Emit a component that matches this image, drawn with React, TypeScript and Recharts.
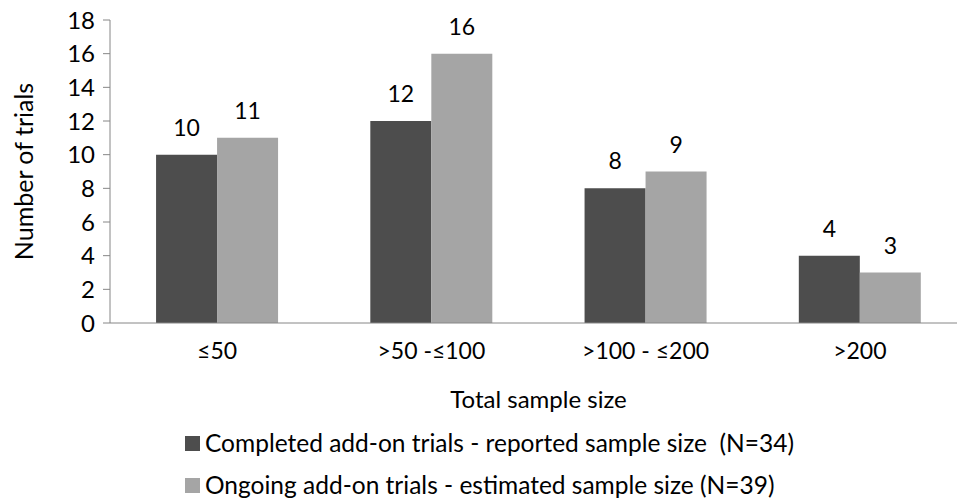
import React from "react";
import { BarChart, Bar, XAxis, YAxis, Legend, LabelList } from "recharts";

const categories = ["≤50", ">50 -≤100", ">100 - ≤200", ">200"];
const completedTrials = [10, 12, 8, 4];
const ongoingTrials = [11, 16, 9, 3];
const yTicks = [0, 2, 4, 6, 8, 10, 12, 14, 16, 18];

const seriesNames = {
  completed: "Completed add-on trials - reported sample size  (N=34)",
  ongoing: "Ongoing add-on trials - estimated sample size (N=39)",
};

const DARK = "#4d4d4d";
const LIGHT = "#a5a5a5";
const AXIS = "#868686";
const FONT = "Lato, 'Open Sans', sans-serif";

const data = categories.map((c, i) => ({
  category: c,
  completed: completedTrials[i],
  ongoing: ongoingTrials[i],
}));

const LegendBox = () => (
  <div style={{ fontFamily: FONT, fontSize: 24.5, color: "#000", lineHeight: 1 }}>
    {[
      { color: DARK, label: seriesNames.completed },
      { color: LIGHT, label: seriesNames.ongoing },
    ].map((item) => (
      <div key={item.label} style={{ display: "flex", alignItems: "center", height: 42 }}>
        <span
          style={{ width: 15, height: 15, background: item.color, display: "inline-block", marginRight: 5, flexShrink: 0 }}
        />
        <span style={{ whiteSpace: "pre" }}>{item.label}</span>
      </div>
    ))}
  </div>
);

const App: React.FC = () => {
  return (
    <div style={{ position: "absolute", left: 0, top: 0, width: 957, height: 499, overflow: "hidden", background: "#fff" }}>
      <BarChart
        width={975}
        height={499}
        data={data}
        margin={{ top: 20, right: 8, left: 10, bottom: 1 }}
        barGap={0}
        barCategoryGap="21.5%"
      >
        <XAxis
          dataKey="category"
          stroke={AXIS}
          tickLine={false}
          tickSize={6}
          tickMargin={14}
          height={95}
          interval={0}
          tick={{ fill: "#000", fontSize: 23, fontFamily: FONT }}
          label={{
            value: "Total sample size",
            position: "insideBottom",
            offset: 10,
            fill: "#000",
            fontSize: 24,
            fontFamily: FONT,
          }}
        />
        <YAxis
          width={100}
          domain={[0, 18]}
          ticks={yTicks}
          interval={0}
          stroke={AXIS}
          tickSize={7}
          tickMargin={8}
          tick={{ fill: "#000", fontSize: 24, fontFamily: FONT }}
          label={{
            content: ({ viewBox }: any) => {
              const cx = viewBox.x + 13;
              const cy = viewBox.y + viewBox.height / 2;
              return (
                <text
                  x={cx}
                  y={cy}
                  transform={`rotate(-90, ${cx}, ${cy})`}
                  textAnchor="middle"
                  dominantBaseline="central"
                  fontSize={25}
                  fontFamily={FONT}
                  fill="#000"
                >
                  Number of trials
                </text>
              );
            },
          }}
        />
        <Legend
          verticalAlign="bottom"
          height={80}
          content={() => <LegendBox />}
          wrapperStyle={{ top: 422, left: 185, width: 760, height: 80 }}
        />
        <Bar dataKey="completed" name={seriesNames.completed} fill={DARK} isAnimationActive={false}>
          <LabelList dataKey="completed" position="top" offset={19} style={{ fill: "#000", fontSize: 23, fontFamily: FONT }} />
        </Bar>
        <Bar dataKey="ongoing" name={seriesNames.ongoing} fill={LIGHT} isAnimationActive={false}>
          <LabelList dataKey="ongoing" position="top" offset={19} style={{ fill: "#000", fontSize: 23, fontFamily: FONT }} />
        </Bar>
      </BarChart>
    </div>
  );
};

export default App;
